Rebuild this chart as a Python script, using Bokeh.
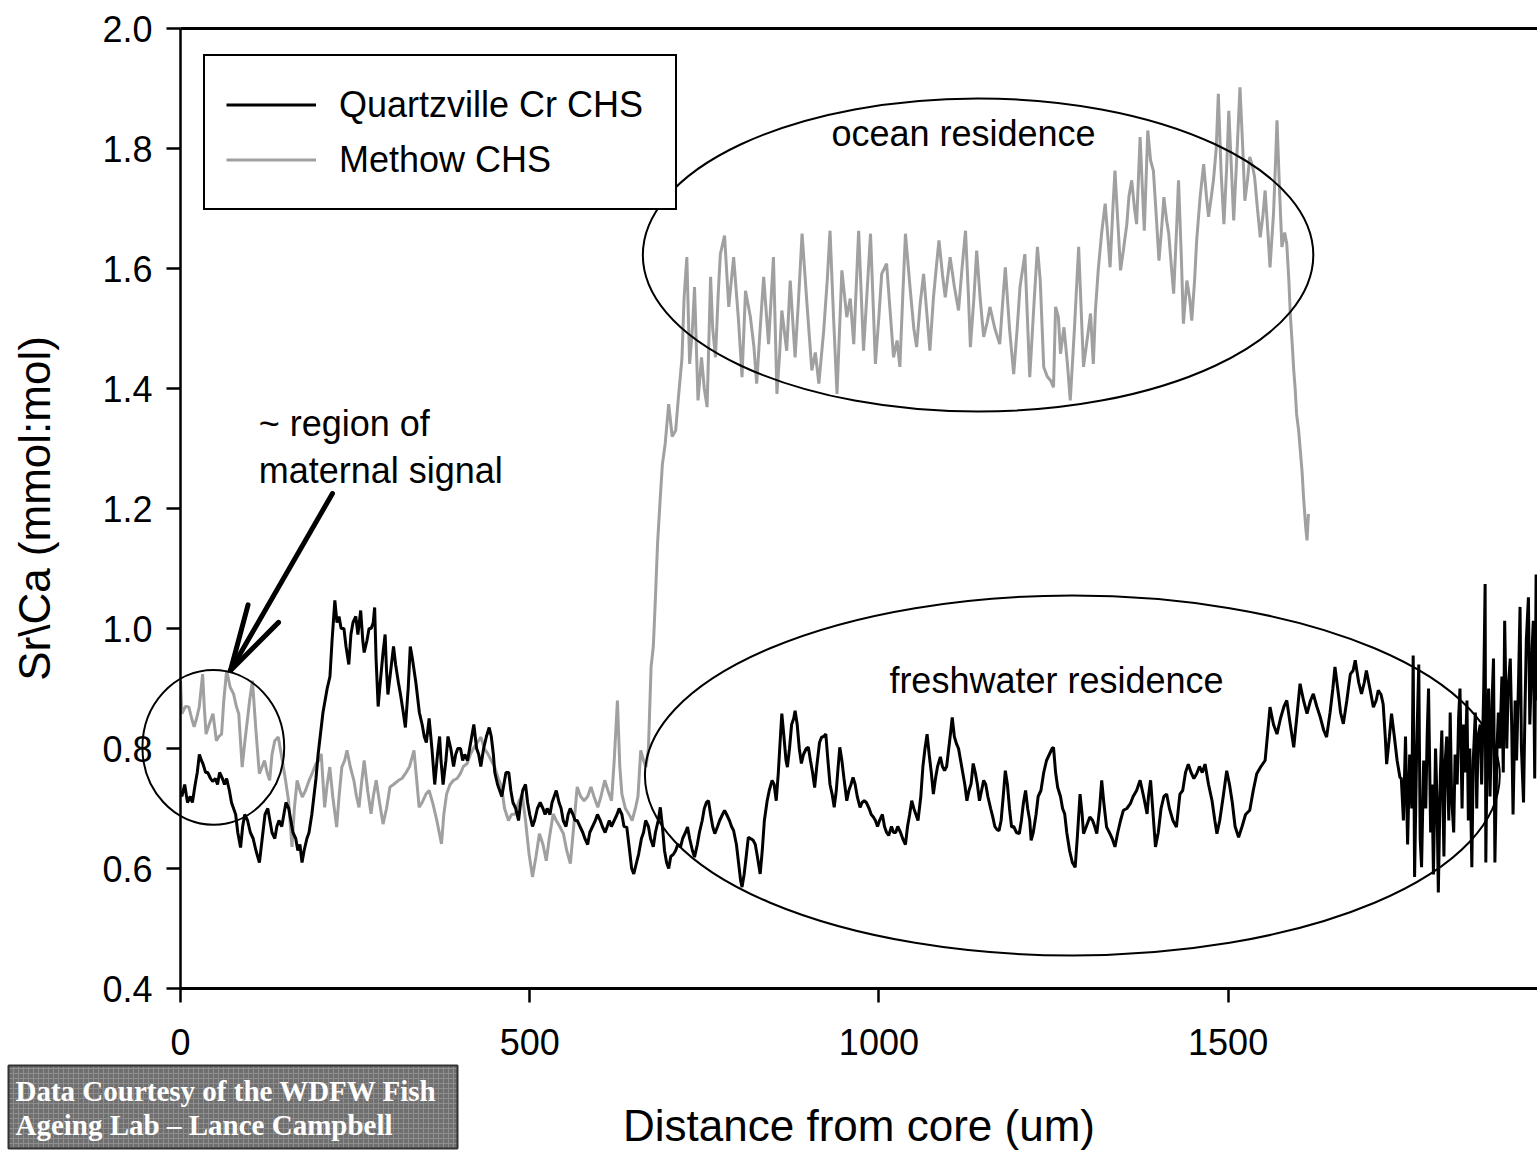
import numpy as np
from bokeh.plotting import figure
from bokeh.models import (Range1d, FixedTicker, PrintfTickFormatter, LinearAxis,
                          Legend, LegendItem)
from bokeh.core.properties import value
from bokeh.embed import file_html
from bokeh.resources import INLINE

# ---------------- data ----------------
QUARTZ_X = [
    0, 2, 6, 10, 14, 17, 21, 24, 27, 30,
    32, 36, 39, 43, 46, 50, 53, 56, 60, 63,
    66, 70, 73, 76, 79, 82, 86, 89, 92, 96,
    100, 104, 108, 113, 117, 121, 125, 128, 131, 135,
    138, 141, 145, 148, 151, 155, 158, 161, 165, 168,
    171, 174, 177, 181, 184, 188, 191, 194, 197, 200,
    204, 207, 210, 214, 217, 221, 224, 227, 230, 234,
    237, 241, 244, 247, 251, 254, 258, 261, 263, 267,
    270, 273, 276, 278, 280, 283, 286, 290, 293, 295,
    297, 301, 305, 308, 312, 315, 319, 322, 326, 329,
    332, 337, 340, 342, 346, 349, 352, 356, 360, 364,
    368, 371, 373, 376, 380, 383, 387, 391, 394, 397,
    401, 404, 407, 411, 414, 417, 420, 424, 427, 430,
    434, 438, 442, 445, 448, 450, 454, 457, 460, 463,
    466, 470, 473, 476, 480, 484, 487, 490, 494, 497,
    500, 504, 507, 511, 515, 519, 522, 525, 529, 532,
    535, 538, 542, 545, 548, 552, 555, 558, 562, 565,
    568, 572, 576, 579, 583, 586, 590, 594, 597, 601,
    604, 608, 611, 614, 617, 621, 625, 628, 632, 635,
    639, 642, 646, 649, 653, 656, 660, 663, 666, 670,
    673, 677, 680, 684, 687, 690, 693, 696, 699, 702,
    706, 709, 712, 716, 719, 723, 726, 729, 733, 736,
    740, 743, 747, 750, 753, 756, 759, 762, 765, 769,
    772, 776, 779, 782, 786, 789, 792, 796, 799, 802,
    804, 807, 810, 813, 816, 820, 823, 826, 830, 833,
    836, 840, 843, 847, 850, 853, 856, 859, 861, 864,
    867, 869, 872, 875, 878, 880, 883, 886, 889, 892,
    896, 899, 902, 905, 908, 911, 915, 918, 921, 924,
    927, 930, 933, 936, 939, 941, 944, 947, 950, 954,
    957, 960, 963, 966, 969, 973, 976, 979, 982, 986,
    989, 992, 995, 998, 1001, 1005, 1008, 1011, 1014, 1018,
    1021, 1024, 1027, 1031, 1034, 1038, 1041, 1044, 1047, 1050,
    1053, 1056, 1060, 1063, 1066, 1069, 1072, 1075, 1078, 1081,
    1084, 1088, 1091, 1094, 1097, 1100, 1103, 1105, 1108, 1111,
    1114, 1117, 1120, 1123, 1126, 1129, 1132, 1135, 1138, 1141,
    1144, 1147, 1150, 1153, 1156, 1160, 1163, 1166, 1169, 1172,
    1175, 1178, 1181, 1184, 1187, 1190, 1193, 1197, 1201, 1204,
    1207, 1210, 1213, 1216, 1218, 1221, 1225, 1228, 1232, 1236,
    1240, 1244, 1248, 1250, 1253, 1256, 1260, 1263, 1266, 1269,
    1273, 1277, 1281, 1284, 1288, 1291, 1293, 1297, 1302, 1306,
    1309, 1312, 1316, 1319, 1322, 1326, 1330, 1334, 1338, 1342,
    1346, 1350, 1355, 1360, 1364, 1369, 1374, 1379, 1384, 1386,
    1389, 1392, 1396, 1400, 1404, 1408, 1412, 1416, 1421, 1426,
    1431, 1435, 1439, 1443, 1447, 1451, 1455, 1459, 1463, 1467,
    1472, 1477, 1481, 1484, 1488, 1493, 1498, 1502, 1506, 1510,
    1515, 1520, 1525, 1531, 1536, 1541, 1547, 1553, 1557, 1560,
    1565, 1570, 1575, 1580, 1584, 1589, 1594, 1599, 1603, 1608,
    1613, 1618, 1622, 1627, 1632, 1637, 1641, 1646, 1650, 1653,
    1658, 1661, 1665, 1670, 1675, 1679, 1682, 1687, 1691, 1695,
    1698, 1703, 1708, 1712, 1715, 1719, 1722, 1725, 1727, 1731,
    1734, 1738, 1742, 1746, 1748, 1751, 1754, 1757, 1760, 1763,
    1765, 1767, 1770, 1773, 1775, 1777, 1780, 1783, 1785, 1787,
    1790, 1792, 1794, 1797, 1799, 1801, 1804, 1806, 1809, 1811,
    1813, 1816, 1818, 1820, 1823, 1825, 1828, 1830, 1832, 1835,
    1837, 1839, 1842, 1844, 1846, 1849, 1851, 1854, 1856, 1858,
    1861, 1863, 1866, 1868, 1869, 1871, 1873, 1875, 1878, 1880,
    1882, 1885, 1887, 1889, 1892, 1894, 1896, 1899, 1901, 1904,
    1906, 1908, 1911, 1913, 1916, 1918, 1920, 1923, 1925, 1927,
    1930, 1932, 1935, 1937, 1939, 1941, 1943,
]
QUARTZ_Y = [
    0.73, 0.72, 0.74, 0.71, 0.72, 0.71, 0.74, 0.76, 0.79, 0.78,
    0.775, 0.76, 0.76, 0.75, 0.745, 0.75, 0.74, 0.76, 0.75, 0.74,
    0.75, 0.73, 0.71, 0.70, 0.69, 0.66, 0.635, 0.67, 0.69, 0.68,
    0.66, 0.65, 0.63, 0.61, 0.65, 0.69, 0.70, 0.68, 0.66, 0.65,
    0.67, 0.68, 0.67, 0.69, 0.71, 0.70, 0.68, 0.66, 0.65, 0.63,
    0.64, 0.61, 0.63, 0.65, 0.66, 0.69, 0.72, 0.75, 0.79, 0.82,
    0.86, 0.88, 0.90, 0.92, 0.98, 1.047, 1.01, 1.02, 1.00, 1.00,
    0.97, 0.94, 0.99, 1.01, 1.02, 0.99, 1.03, 0.98, 0.96, 0.98,
    1.00, 1.00, 1.01, 1.035, 0.95, 0.87, 0.91, 0.96, 0.99, 0.93,
    0.89, 0.93, 0.97, 0.94, 0.91, 0.89, 0.86, 0.835, 0.90, 0.97,
    0.95, 0.91, 0.88, 0.86, 0.84, 0.82, 0.81, 0.85, 0.80, 0.74,
    0.79, 0.82, 0.78, 0.74, 0.78, 0.82, 0.80, 0.77, 0.79, 0.80,
    0.80, 0.78, 0.79, 0.78, 0.80, 0.82, 0.84, 0.80, 0.79, 0.77,
    0.80, 0.82, 0.835, 0.82, 0.79, 0.76, 0.74, 0.73, 0.72, 0.74,
    0.76, 0.76, 0.73, 0.71, 0.70, 0.68, 0.71, 0.73, 0.74, 0.71,
    0.69, 0.67, 0.68, 0.70, 0.71, 0.70, 0.69, 0.70, 0.69, 0.71,
    0.72, 0.73, 0.71, 0.70, 0.68, 0.67, 0.69, 0.70, 0.69, 0.68,
    0.68, 0.67, 0.66, 0.65, 0.64, 0.66, 0.67, 0.68, 0.69, 0.68,
    0.67, 0.66, 0.67, 0.68, 0.67, 0.68, 0.69, 0.70, 0.69, 0.67,
    0.669, 0.64, 0.60, 0.591, 0.61, 0.624, 0.65, 0.66, 0.68, 0.67,
    0.65, 0.636, 0.66, 0.68, 0.702, 0.67, 0.63, 0.61, 0.60, 0.62,
    0.624, 0.63, 0.64, 0.636, 0.65, 0.66, 0.669, 0.65, 0.63, 0.619,
    0.64, 0.66, 0.68, 0.70, 0.71, 0.713, 0.69, 0.67, 0.658, 0.67,
    0.68, 0.69, 0.697, 0.69, 0.68, 0.67, 0.663, 0.64, 0.61, 0.58,
    0.569, 0.59, 0.62, 0.652, 0.65, 0.647, 0.64, 0.62, 0.591, 0.63,
    0.68, 0.713, 0.73, 0.747, 0.74, 0.713, 0.76, 0.82, 0.858, 0.82,
    0.78, 0.769, 0.80, 0.84, 0.85, 0.863, 0.84, 0.80, 0.775, 0.79,
    0.80, 0.802, 0.78, 0.76, 0.735, 0.77, 0.81, 0.819, 0.82, 0.824,
    0.78, 0.74, 0.724, 0.702, 0.73, 0.76, 0.802, 0.78, 0.75, 0.713,
    0.73, 0.74, 0.752, 0.74, 0.72, 0.702, 0.71, 0.713, 0.71, 0.70,
    0.69, 0.686, 0.68, 0.67, 0.68, 0.69, 0.67, 0.66, 0.655, 0.67,
    0.66, 0.66, 0.67, 0.66, 0.65, 0.64, 0.67, 0.69, 0.713, 0.70,
    0.69, 0.68, 0.72, 0.77, 0.80, 0.824, 0.79, 0.76, 0.724, 0.75,
    0.77, 0.786, 0.77, 0.763, 0.77, 0.80, 0.83, 0.852, 0.82, 0.808,
    0.80, 0.78, 0.76, 0.74, 0.713, 0.73, 0.741, 0.775, 0.76, 0.74,
    0.713, 0.73, 0.747, 0.74, 0.72, 0.70, 0.686, 0.67, 0.665, 0.663,
    0.68, 0.72, 0.763, 0.74, 0.70, 0.669, 0.67, 0.66, 0.658, 0.68,
    0.71, 0.73, 0.70, 0.68, 0.647, 0.66, 0.69, 0.72, 0.73, 0.76,
    0.78, 0.79, 0.80, 0.802, 0.76, 0.735, 0.72, 0.70, 0.691, 0.66,
    0.63, 0.61, 0.602, 0.65, 0.724, 0.69, 0.658, 0.67, 0.686, 0.68,
    0.67, 0.658, 0.70, 0.747, 0.71, 0.669, 0.66, 0.65, 0.636, 0.66,
    0.68, 0.697, 0.70, 0.708, 0.72, 0.73, 0.747, 0.72, 0.691, 0.72,
    0.747, 0.70, 0.636, 0.66, 0.70, 0.72, 0.724, 0.70, 0.68, 0.669,
    0.724, 0.73, 0.76, 0.774, 0.76, 0.75, 0.758, 0.77, 0.76, 0.774,
    0.74, 0.713, 0.68, 0.658, 0.68, 0.72, 0.763, 0.74, 0.71, 0.67,
    0.652, 0.67, 0.69, 0.697, 0.73, 0.758, 0.77, 0.78, 0.83, 0.869,
    0.84, 0.824, 0.85, 0.87, 0.88, 0.84, 0.802, 0.86, 0.908, 0.88,
    0.858, 0.88, 0.891, 0.87, 0.852, 0.83, 0.819, 0.86, 0.90, 0.936,
    0.89, 0.86, 0.841, 0.88, 0.924, 0.93, 0.947, 0.91, 0.891, 0.91,
    0.93, 0.90, 0.869, 0.88, 0.897, 0.89, 0.874, 0.82, 0.774, 0.82,
    0.858, 0.82, 0.78, 0.752, 0.75, 0.68, 0.82, 0.64, 0.79, 0.70,
    0.955, 0.586, 0.80, 0.94, 0.65, 0.602, 0.78, 0.70, 0.82, 0.90,
    0.66, 0.74, 0.59, 0.80, 0.72, 0.56, 0.76, 0.83, 0.62, 0.78,
    0.82, 0.68, 0.86, 0.72, 0.66, 0.79, 0.74, 0.85, 0.90, 0.70,
    0.84, 0.76, 0.88, 0.68, 0.80, 0.602, 0.78, 0.86, 0.70, 0.82,
    0.84, 0.74, 0.90, 1.074, 0.61, 0.82, 0.90, 0.72, 0.88, 0.95,
    0.61, 0.80, 0.86, 0.80, 0.92, 0.76, 1.013, 0.80, 0.90, 0.95,
    0.84, 0.69, 0.88, 0.78, 0.92, 1.036, 0.80, 0.71, 0.86, 0.98,
    1.052, 0.84, 0.96, 1.013, 0.75, 1.09, 0.88,
]

METHOW_X = [
    0, 2, 7, 12, 16, 19.5, 23, 26.8, 31.7, 34,
    36.6, 41, 46.5, 51.4, 55, 58.8, 62, 66.1, 71.1, 76,
    80, 83.4, 88.3, 92, 95.7, 99, 103, 108, 112.9, 117,
    120.3, 124, 127.7, 131, 135, 140, 144.9, 150, 154.7, 159.6,
    163, 167, 171, 174.4, 179, 184.2, 189, 194.1, 198, 201.5,
    206.4, 210, 213.8, 218, 223.6, 227, 231, 235, 238.4, 243,
    248.2, 252, 255.6, 259, 263, 268, 272.8, 276, 280.2, 285,
    290, 295, 299.9, 305, 312.2, 317, 322, 328, 334.3, 338,
    341.7, 346, 351.5, 356, 361.4, 367, 373.7, 377, 381, 386,
    390.9, 396, 400.7, 405, 410.6, 415, 420.4, 425, 430.2, 435,
    440.1, 445, 449.9, 455, 459.7, 464, 469.6, 474, 479.4, 484,
    489.2, 494, 499.1, 504, 509, 513.9, 519, 523.7, 528, 533.6,
    538, 543, 548.3, 553, 558.2, 563, 568, 573, 577.9, 583,
    587.7, 592, 597.5, 602, 607.4, 612, 617.2, 621, 625.6, 629,
    632, 637, 641.8, 646.7, 651.7, 655, 659, 663, 666.4, 670,
    673.8, 677, 680, 683, 687, 690, 694, 699, 704, 709,
    713, 718, 721, 725, 729, 733, 736, 741, 746, 750,
    754, 759, 762, 766, 770, 773, 779, 785, 792, 799,
    804, 809, 816, 821, 825, 830, 835, 842, 849, 854,
    858, 861, 868, 873, 880, 885, 890, 897, 904, 909,
    914, 921, 926, 930, 935, 940, 947, 954, 959, 964,
    971, 978, 983, 988, 995, 1000, 1004, 1011, 1016, 1021,
    1026, 1030, 1034, 1038, 1045, 1050, 1054, 1059, 1064, 1069,
    1073, 1078, 1082, 1086, 1091, 1095, 1102, 1108, 1114, 1119,
    1124, 1128, 1131, 1136, 1140, 1145, 1150, 1155, 1159, 1166,
    1173, 1177, 1181, 1187, 1193, 1198, 1202, 1209, 1216, 1222,
    1227, 1231, 1236, 1241, 1246, 1250, 1253, 1257, 1260, 1265,
    1270, 1274, 1280, 1286, 1290, 1293, 1298, 1303, 1307, 1310,
    1314, 1319, 1324, 1328, 1331, 1335, 1338, 1342, 1346, 1350,
    1355, 1358, 1362, 1366, 1369, 1374, 1377, 1380, 1385, 1389,
    1393, 1397, 1401, 1405, 1408, 1412, 1415, 1419, 1422, 1426,
    1429, 1433, 1436, 1441, 1445, 1448, 1452, 1455, 1460, 1465,
    1469, 1472, 1476, 1479, 1483, 1486, 1490, 1494, 1498, 1501,
    1505, 1508, 1513, 1517, 1521, 1524, 1528, 1531, 1535, 1538,
    1542, 1546, 1550, 1553, 1557, 1560, 1565, 1568, 1570, 1574,
    1577, 1581, 1584, 1587, 1589, 1592, 1594, 1596, 1598, 1601,
    1603, 1606, 1608, 1611, 1613, 1615,
]
METHOW_Y = [
    0.913, 0.858, 0.87, 0.869, 0.85, 0.836, 0.85, 0.869, 0.924, 0.87,
    0.824, 0.84, 0.858, 0.813, 0.82, 0.824, 0.88, 0.93, 0.902, 0.891,
    0.87, 0.858, 0.769, 0.81, 0.847, 0.88, 0.913, 0.83, 0.758, 0.77,
    0.78, 0.76, 0.747, 0.79, 0.813, 0.819, 0.786, 0.75, 0.713, 0.636,
    0.70, 0.747, 0.73, 0.719, 0.73, 0.747, 0.76, 0.775, 0.78, 0.791,
    0.702, 0.74, 0.769, 0.72, 0.669, 0.72, 0.769, 0.78, 0.797, 0.77,
    0.747, 0.72, 0.702, 0.74, 0.78, 0.73, 0.691, 0.72, 0.747, 0.71,
    0.674, 0.70, 0.736, 0.74, 0.747, 0.75, 0.758, 0.77, 0.797, 0.75,
    0.702, 0.71, 0.724, 0.73, 0.708, 0.68, 0.641, 0.69, 0.724, 0.74,
    0.747, 0.75, 0.758, 0.77, 0.775, 0.79, 0.802, 0.81, 0.819, 0.80,
    0.791, 0.78, 0.769, 0.75, 0.736, 0.70, 0.68, 0.69, 0.691, 0.71,
    0.724, 0.68, 0.624, 0.586, 0.62, 0.658, 0.64, 0.613, 0.65, 0.691,
    0.68, 0.67, 0.658, 0.63, 0.608, 0.67, 0.736, 0.72, 0.713, 0.72,
    0.736, 0.72, 0.702, 0.72, 0.747, 0.73, 0.713, 0.78, 0.88, 0.77,
    0.724, 0.70, 0.691, 0.68, 0.702, 0.72, 0.797, 0.78, 0.769, 0.80,
    0.936, 0.97, 1.05, 1.14, 1.219, 1.274, 1.308, 1.374, 1.32, 1.33,
    1.386, 1.45, 1.55, 1.619, 1.441, 1.50, 1.569, 1.38, 1.452, 1.40,
    1.369, 1.586, 1.50, 1.452, 1.56, 1.624, 1.655, 1.536, 1.619, 1.513,
    1.419, 1.563, 1.519, 1.47, 1.408, 1.50, 1.586, 1.474, 1.619, 1.391,
    1.46, 1.530, 1.463, 1.580, 1.452, 1.55, 1.658, 1.541, 1.43, 1.46,
    1.408, 1.497, 1.58, 1.663, 1.52, 1.391, 1.597, 1.519, 1.55, 1.474,
    1.663, 1.463, 1.56, 1.658, 1.441, 1.52, 1.591, 1.608, 1.53, 1.452,
    1.48, 1.436, 1.55, 1.658, 1.563, 1.50, 1.469, 1.54, 1.591, 1.52,
    1.463, 1.55, 1.60, 1.647, 1.59, 1.552, 1.619, 1.57, 1.530, 1.60,
    1.663, 1.56, 1.469, 1.55, 1.630, 1.55, 1.486, 1.51, 1.536, 1.50,
    1.474, 1.54, 1.602, 1.50, 1.424, 1.50, 1.569, 1.624, 1.419, 1.54,
    1.636, 1.58, 1.436, 1.42, 1.413, 1.402, 1.536, 1.519, 1.458, 1.502,
    1.44, 1.38, 1.50, 1.636, 1.52, 1.436, 1.48, 1.525, 1.441, 1.53,
    1.597, 1.66, 1.708, 1.65, 1.602, 1.70, 1.763, 1.68, 1.597, 1.63,
    1.674, 1.72, 1.747, 1.70, 1.674, 1.819, 1.74, 1.663, 1.830, 1.78,
    1.763, 1.69, 1.613, 1.67, 1.719, 1.68, 1.658, 1.60, 1.558, 1.66,
    1.747, 1.62, 1.508, 1.58, 1.55, 1.513, 1.58, 1.647, 1.72, 1.774,
    1.72, 1.686, 1.72, 1.747, 1.80, 1.891, 1.76, 1.674, 1.77, 1.863,
    1.76, 1.68, 1.80, 1.902, 1.80, 1.713, 1.75, 1.786, 1.77, 1.752,
    1.70, 1.652, 1.69, 1.730, 1.66, 1.602, 1.691, 1.78, 1.847, 1.72,
    1.636, 1.66, 1.641, 1.58, 1.525, 1.47, 1.43, 1.40, 1.358, 1.33,
    1.302, 1.26, 1.219, 1.17, 1.147, 1.191,
]

SERIES_NAMES = ["Quartzville Cr CHS", "Methow CHS"]
X_TICKS = [0, 500, 1000, 1500]
Y_TICKS = [0.4, 0.6, 0.8, 1.0, 1.2, 1.4, 1.6, 1.8, 2.0]
X_MIN, X_MAX = 0, 1943
Y_MIN, Y_MAX = 0.4, 2.0

# annotation ellipses: (center x, center y, width, height) in data units
ELLIPSES = [
    (47, 0.802, 203, 0.258),     # maternal region
    (1142, 1.6225, 960, 0.522),  # ocean residence
    (1277, 0.755, 1224, 0.60),   # freshwater residence
]
NOTES = [
    (932, 1.825, "ocean residence"),
    (1015, 0.913, "freshwater residence"),
    (112, 1.342, "~ region of"),
    (112, 1.263, "maternal signal"),
]
ARROW_TAIL = (217.6, 1.225)
ARROW_TIP = (71.6, 0.93)
CREDIT_LINES = ["Data Courtesy of the WDFW Fish", "Ageing Lab \u2013 Lance Campbell"]

# ---------------- layout ----------------
W, H = 1537, 1152
ML, MR, MT, MB = 180, 0, 28, 164
FONT = "Liberation Sans"

p = figure(width=W, height=H, output_backend="svg", toolbar_location=None,
           x_range=Range1d(X_MIN, X_MAX), y_range=Range1d(Y_MIN, Y_MAX),
           min_border_left=ML, min_border_right=MR,
           min_border_top=MT, min_border_bottom=MB,
           x_axis_label="Distance from core (um)",
           y_axis_label="Sr\\Ca (mmol:mol)")
p.outline_line_color = None
p.grid.visible = False
p.background_fill_color = "white"
p.border_fill_color = "white"

for ax in (p.xaxis[0], p.yaxis[0]):
    ax.axis_line_width = 2.5
    ax.axis_line_color = "black"
    ax.major_tick_line_width = 2.5
    ax.major_tick_line_color = "black"
    ax.major_tick_out = 14
    ax.major_tick_in = 0
    ax.minor_tick_line_color = None
    ax.major_label_text_font = FONT
    ax.major_label_text_font_size = "36px"
    ax.major_label_text_color = "black"
    ax.axis_label_text_font = FONT
    ax.axis_label_text_font_size = "44px"
    ax.axis_label_text_font_style = "normal"
    ax.axis_label_text_color = "black"

p.xaxis[0].ticker = FixedTicker(ticks=X_TICKS)
p.xaxis[0].major_label_standoff = 26
p.xaxis[0].axis_label_standoff = 43
p.xaxis[0].axis_line_width = 3
p.yaxis[0].ticker = FixedTicker(ticks=Y_TICKS)
p.yaxis[0].formatter = PrintfTickFormatter(format="%.1f")
p.yaxis[0].major_label_standoff = 14
p.yaxis[0].axis_label_standoff = 40

top = LinearAxis(ticker=FixedTicker(ticks=[]), axis_line_width=3,
                 axis_line_color="black", major_tick_line_color=None,
                 minor_tick_line_color=None, major_label_text_font_size="0px")
p.add_layout(top, "above")

# ---------------- series ----------------
r_meth = p.line(METHOW_X, METHOW_Y, line_color="#a0a0a0", line_width=3)
r_quartz = p.line(QUARTZ_X, QUARTZ_Y, line_color="black", line_width=3)

# ---------------- annotations ----------------
fw = W - ML - MR
fh = H - MT - MB
sx = fw / (X_MAX - X_MIN)
sy = fh / (Y_MAX - Y_MIN)


def px_to_x(px):
    return X_MIN + (px - ML) / sx


def py_to_y(py):
    return Y_MAX - (py - MT) / sy


# ellipses drawn at overlay level so they may cross the axis / legend
p.ellipse(x=[e[0] for e in ELLIPSES], y=[e[1] for e in ELLIPSES],
          width=[e[2] for e in ELLIPSES], height=[e[3] for e in ELLIPSES],
          fill_color=None, fill_alpha=0, line_color="black", line_width=2,
          level="overlay")

p.text(x=[n[0] for n in NOTES], y=[n[1] for n in NOTES], text=[n[2] for n in NOTES],
       text_font=value(FONT), text_font_size="36px", text_color="black",
       text_align="left", text_baseline="middle")

# arrow with a narrow open head, computed in pixel space
tip = np.array([ARROW_TIP[0] * sx, ARROW_TIP[1] * sy])
tail = np.array([ARROW_TAIL[0] * sx, ARROW_TAIL[1] * sy])
d = (tail - tip) / np.linalg.norm(tail - tip)
heads = []
for ang in (np.radians(15), np.radians(-15)):
    rot = np.array([[np.cos(ang), -np.sin(ang)], [np.sin(ang), np.cos(ang)]])
    heads.append(tip + 68 * rot.dot(d))
x0 = [ARROW_TAIL[0], ARROW_TIP[0], ARROW_TIP[0]]
y0 = [ARROW_TAIL[1], ARROW_TIP[1], ARROW_TIP[1]]
x1 = [ARROW_TIP[0], heads[0][0] / sx, heads[1][0] / sx]
y1 = [ARROW_TIP[1], heads[0][1] / sy, heads[1][1] / sy]
p.segment(x0=x0, y0=y0, x1=x1, y1=y1, line_color="black", line_width=5,
          line_cap="round")

legend = Legend(items=[LegendItem(label=SERIES_NAMES[0], renderers=[r_quartz]),
                       LegendItem(label=SERIES_NAMES[1], renderers=[r_meth])],
                location=(23, 778), orientation="vertical",
                label_text_font=FONT, label_text_font_size="36px",
                label_text_color="black",
                glyph_width=90, glyph_height=55, label_height=55,
                label_width=315,
                label_standoff=23, padding=21, spacing=0, margin=0,
                border_line_color="black", border_line_width=2.5,
                border_line_alpha=1.0,
                background_fill_color="white", background_fill_alpha=1.0)
p.add_layout(legend)

# credit box in the lower-left corner (outside the frame -> overlay level)
p.quad(left=[px_to_x(8)], right=[px_to_x(457)],
       top=[py_to_y(1065)], bottom=[py_to_y(1148)],
       fill_color="#6f6f6f", hatch_pattern="+", hatch_color="#8e8e8e",
       hatch_scale=5, hatch_weight=1, line_color="#333333", line_width=2,
       level="overlay")
p.text(x=[px_to_x(15), px_to_x(15)], y=[py_to_y(1090), py_to_y(1124)],
       text=CREDIT_LINES, text_font=value("Liberation Serif"),
       text_font_style="bold", text_font_size="29px", text_color="white",
       text_align="left", text_baseline="middle", level="overlay")

open("out.html", "w").write(file_html(p, INLINE))
